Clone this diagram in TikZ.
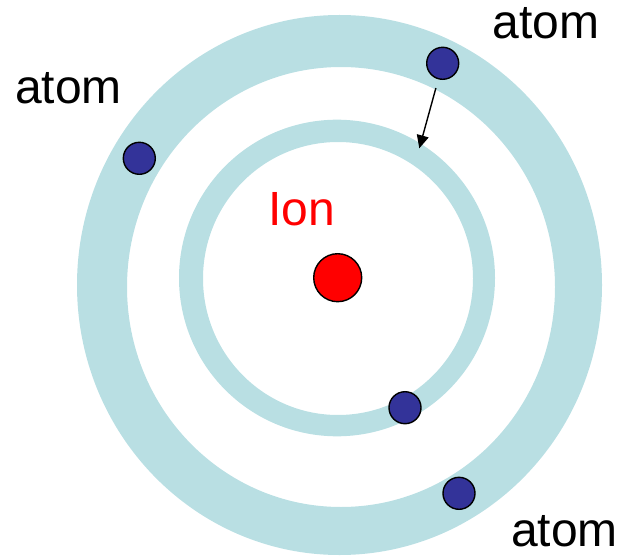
\documentclass[tikz,border=0pt]{standalone}
\usepackage{fontspec}
\setmainfont{Liberation Sans}
\usetikzlibrary{arrows.meta}
\definecolor{ringblue}{RGB}{185,223,227}
\definecolor{atomblue}{RGB}{51,51,153}
\tikzset{
  atom/.style={circle, draw=black, line width=1.4pt, fill=atomblue, minimum size=32pt, inner sep=0pt},
  ion/.style={circle, draw=black, line width=1.4pt, fill=red, minimum size=48pt, inner sep=0pt},
  lbl/.style={anchor=base west, inner sep=0pt, font=\fontsize{48}{52}\selectfont},
  mover/.style={-{Triangle[length=13pt,width=12pt]}, line width=1.4pt, black}
}
\begin{document}
\begin{tikzpicture}[x=1pt,y=-1pt]
\useasboundingbox (0,0) rectangle (618,556);
% outer ring
\fill[ringblue, even odd rule] (339.5,285) ellipse [x radius=262.5, y radius=270]
  (341,287) ellipse [x radius=214, y radius=220];
% inner ring
\fill[ringblue, even odd rule] (337,278) ellipse [x radius=158, y radius=158.3]
  (338,278.5) ellipse [x radius=135, y radius=136.5];
% ion
\node[ion] (ion) at (337.7,277.7) {};
\node[lbl, text=red] (ionlbl) at (268.2,225) {Ion};
% atoms
\node[atom] (a1) at (442.7,63.3) {};
\node[atom] (a2) at (139.3,158.3) {};
\node[atom] (a3) at (405,407.7) {};
\node[atom] (a4) at (459,493.3) {};
% labels
\node[lbl] (l1) at (492.3,39) {atom};
\node[lbl] (l2) at (15,103.3) {atom};
\node[lbl] (l3) at (511,546.7) {atom};
% arrow
\coordinate (ae) at (419.3,148.3);
\draw[mover, shorten <=9pt] (a1) -- (ae);
\end{tikzpicture}
\end{document}
